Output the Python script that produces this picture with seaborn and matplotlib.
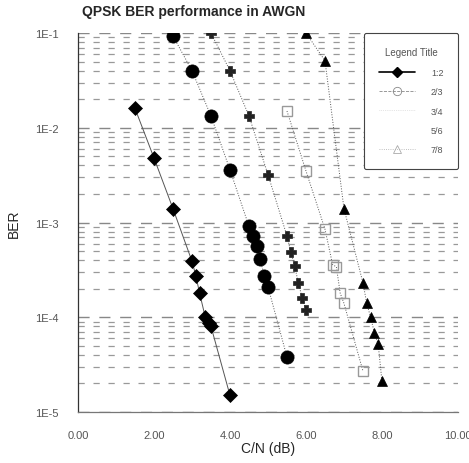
import matplotlib
matplotlib.use("Agg")
import matplotlib.pyplot as plt
from matplotlib.lines import Line2D
from matplotlib.ticker import LogLocator, FixedLocator, NullFormatter
import seaborn as sns
import pandas as pd
import numpy as np

# BER curves
cn_12 = [1.5, 2.0, 2.5, 3.0, 3.1, 3.2, 3.35, 3.45, 3.5, 4.0]
ber_12 = [1.6e-2, 4.8e-3, 1.4e-3, 3.9e-4, 2.75e-4, 1.8e-4, 1.0e-4, 8.8e-5, 8.0e-5, 1.5e-5]

cn_23 = [2.5, 3.0, 3.5, 4.0, 4.5, 4.6, 4.7, 4.8, 4.9, 5.0, 5.5]
ber_23 = [9.3e-2, 4.0e-2, 1.33e-2, 3.6e-3, 9.1e-4, 7.2e-4, 5.6e-4, 4.1e-4, 2.7e-4, 2.1e-4, 3.8e-5]

cn_34 = [3.5, 4.0, 4.5, 5.0, 5.5, 5.6, 5.7, 5.8, 5.9, 6.0]
ber_34 = [1.0e-1, 4.0e-2, 1.33e-2, 3.2e-3, 7.2e-4, 4.9e-4, 3.5e-4, 2.3e-4, 1.6e-4, 1.2e-4]

cn_56 = [5.5, 6.0, 6.5, 6.7, 6.8, 6.9, 7.0, 7.5]
ber_56 = [1.5e-2, 3.5e-3, 8.5e-4, 3.6e-4, 3.4e-4, 1.8e-4, 1.4e-4, 2.7e-5]

cn_78 = [6.0, 6.5, 7.0, 7.5, 7.6, 7.7, 7.8, 7.9, 8.0]
ber_78 = [1.0e-1, 5.1e-2, 1.4e-3, 2.3e-4, 1.4e-4, 1.0e-4, 6.9e-5, 5.2e-5, 2.1e-5]

rates = ["1:2", "2/3", "3/4", "5/6", "7/8"]
xticks = [0, 2, 4, 6, 8, 10]
xtick_labels = ["0.00", "2.00", "4.00", "6.00", "8.00", "10.00"]
yticks = [1e-5, 1e-4, 1e-3, 1e-2, 1e-1]
ytick_labels = ["1E-5", "1E-4", "1E-3", "1E-2", "1E-1"]

sns.set_style("white")
plt.rcParams['font.family'] = ['Liberation Sans', 'DejaVu Sans']

fig = plt.figure(figsize=(4.69, 4.64), dpi=100)
ax = fig.add_axes([0.1663, 0.1099, 0.8102, 0.8168])

series = [
    (cn_12, ber_12, "D", 7, "-", "#000000"),
    (cn_23, ber_23, "o", 9.5, ":", "#000000"),
    (cn_34, ber_34, "P", 7.5, ":", "#222222"),
    (cn_56, ber_56, "s", 7, ":", "#999999"),
    (cn_78, ber_78, "^", 7, ":", "#000000"),
]

for (x, y, m, ms, ls, c), name in zip(series, rates):
    df = pd.DataFrame({"cn": x, "ber": y})
    sns.lineplot(data=df, x="cn", y="ber", ax=ax, sort=False, color="#555555",
                 linewidth=0.7, linestyle=ls, marker=m, markersize=ms,
                 markerfacecolor=c if m != "s" else "none",
                 markeredgecolor=c, markeredgewidth=1.0 if m == "s" else 0.5)

ax.set_yscale("log")
ax.set_xlim(0, 10)
ax.set_ylim(1e-5, 1e-1)

# dashed horizontal grid at every decade subdivision
ax.yaxis.set_major_locator(FixedLocator(yticks))
ax.yaxis.set_minor_locator(LogLocator(base=10, subs=np.arange(2, 10)))
ax.yaxis.set_minor_formatter(NullFormatter())
ax.set_yticklabels(ytick_labels)
ax.grid(True, which="major", axis="y", linestyle=(0, (8, 7)), color="#888888", linewidth=1.0)
ax.grid(True, which="minor", axis="y", linestyle=(0, (5, 7)), color="#999999", linewidth=0.9)

ax.set_xticks(xticks)
ax.set_xticklabels(xtick_labels)
ax.set_xticks([1, 3, 5, 7, 9], minor=True)

for s in ["top", "right"]:
    ax.spines[s].set_visible(False)
ax.spines["left"].set_color("#333333")
ax.spines["bottom"].set_color("#777777")
ax.spines["left"].set_linewidth(0.9)
ax.spines["bottom"].set_linewidth(0.9)

ax.tick_params(axis="x", which="major", direction="out", length=8, width=0.8,
               color="#555555", labelsize=8, labelcolor="#555555", pad=5)
ax.tick_params(axis="x", which="minor", direction="out", length=5, width=0.8, color="#555555")
ax.tick_params(axis="y", which="major", direction="out", length=12, width=0.8,
               color="#555555", labelsize=8, labelcolor="#555555", pad=2)
ax.tick_params(axis="y", which="minor", direction="out", length=0)

ax.set_xlabel("C/N (dB)", fontsize=10, labelpad=1)
ax.set_ylabel("BER", fontsize=10, labelpad=10)
fig.text(0.175, 0.965, "QPSK BER performance in AWGN", fontsize=10, fontweight="bold")

handles = [
    Line2D([], [], color="black", linestyle="-", linewidth=1.2, marker="D", markersize=5),
    Line2D([], [], color="#888888", linestyle="--", linewidth=0.6, marker="o", markersize=6,
           markerfacecolor="none", markeredgecolor="#888888", markeredgewidth=0.6),
    Line2D([], [], color="#cccccc", linestyle=":", linewidth=0.5),
    Line2D([], [], color="white", linestyle=":", linewidth=0.5),
    Line2D([], [], color="#aaaaaa", linestyle=":", linewidth=0.6, marker="^", markersize=6,
           markerfacecolor="none", markeredgecolor="#aaaaaa", markeredgewidth=0.6),
]
leg = ax.legend(handles, rates, title="Legend Title", loc="upper right",
                bbox_to_anchor=(1.0, 1.0), borderaxespad=0, fontsize=6.5, title_fontsize=7,
                frameon=True, fancybox=True, handlelength=4, labelspacing=1.15,
                borderpad=1.6, handletextpad=1.8, framealpha=1)
leg.get_frame().set_edgecolor("#444444")
leg.get_frame().set_linewidth(0.8)
for t in leg.get_texts():
    t.set_color("#555555")
leg.get_title().set_color("#555555")

fig.savefig("out.png", dpi=100)
